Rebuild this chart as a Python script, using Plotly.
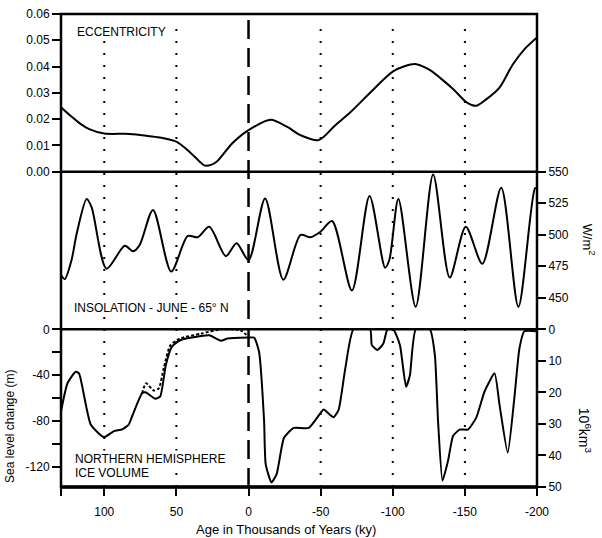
import plotly.graph_objects as go

# ---------------- data ----------------
ecc_age = [130, 123.7, 117, 110, 100, 85.8, 80, 68.6, 60.5, 50, 41, 34, 30.7, 26, 21.5, 11.2, 0,
           -15.4, -26.9, -36, -48.6, -60, -70.6, -85, -100.5, -115.5, -125, -132.8, -142,
           -151.2, -158, -165, -174, -183.2, -192, -200]
ecc_val = [0.0245, 0.0214, 0.0184, 0.0161, 0.0145, 0.0144, 0.0142, 0.0135, 0.0129, 0.0114, 0.0076,
           0.0039, 0.0024, 0.0026, 0.0041, 0.0108, 0.0158, 0.0198, 0.0170, 0.0139, 0.0120, 0.0176,
           0.0226, 0.0304, 0.0383, 0.0410, 0.0389, 0.0357, 0.0314, 0.0264, 0.0251, 0.0276, 0.0320,
           0.0408, 0.0470, 0.0511]

ins_age = [130, 127.4, 122.6, 119.1, 112.2, 108.8, 98.4, 85.8, 80, 75.4, 66.2, 53.6, 42.1, 35.2,
           27.2, 15.7, 8.3, 0, -11.5, -24.1, -36.1, -42.9, -49.9, -57.9, -71.7, -83.9, -94.7,
           -97.7, -103.9, -115.9, -128, -139.5, -150.6, -162.1, -175.2, -187.1, -198.6, -200]
ins_val = [468, 464.8, 480.4, 501, 528.3, 521.8, 473.1, 491.2, 486.9, 492, 519.7, 470.8, 499, 498,
           506.3, 483, 493.3, 479.9, 528.8, 464.4, 499.8, 498, 502.4, 510.9, 455.8, 530.8, 473.9,
           480.4, 528.3, 442.9, 547.7, 466.1, 506.3, 477, 537.3, 442.9, 536.8, 537]

ice_age = [130, 125.5, 119.8, 117.5, 109.4, 100.2, 93.3, 87.6, 83, 80.7, 73.8, 71.5, 64.6, 61.2,
           57.3, 53.2, 47.4, 32.9, 27.1, 19.1, 14.5, 0, -3.9, -7.3, -10.8, -11.9, -15.9, -19.5,
           -24.6, -31.4, -41.8, -49.9, -52.1, -59, -62.5, -67.1, -72.8, -84.3, -85.5, -89.4,
           -93.5, -96.3, -100.4, -105, -109.2, -111.9, -116, -125.7, -129.2, -131.4, -134.5,
           -138.3, -141.8, -146.4, -152.1, -157.9, -163.7, -170.6, -174, -179.7, -184.3, -187.8,
           -191.2, -200]
ice_val = [-71.5, -47, -37, -38.4, -83, -94, -88.8, -87.3, -83, -75.8, -55.7, -54.8, -60.5, -58.5,
           -31, -15.3, -9.5, -5.8, -5.2, -10, -8, -7.2, -7.2, -19.6, -80, -117.6, -133.5, -126.3,
           -94.6, -86, -86, -73, -70, -76.7, -70, -34, 0, 0, -13.8, -18, -12.4, 0, 0, -13.8, -50,
           -40, 0, 0, -22.5, -80, -132, -114.8, -93, -87.4, -87.4, -77, -54, -38.4, -65.7, -107.6,
           -60, -16.8, -1.7, -1.7]

alt_age = [73.8, 71, 65.7, 62.2, 58.8, 54.1, 47.4, 32.9, 19.1, 5.3, 0]
alt_val = [-55.7, -47, -53.4, -51.4, -34, -13.8, -8, -3.8, 0, -1, -6.6]

x_ticks = [130, 100, 50, 0, -50, -100, -150, -200]
x_ticktext = ["", "100", "50", "0", "-50", "-100", "-150", "-200"]
ecc_ticks = [0, 0.01, 0.02, 0.03, 0.04, 0.05, 0.06]
ins_ticks = [450, 475, 500, 525, 550]
sea_ticks = [-120, -100, -80, -60, -40, -20, 0]
sea_ticktext = ["-120", "", "-80", "", "-40", "", "0"]
vol_ticks = [0, 10, 20, 30, 40, 50]
dotted_ages = [100, 50, -50, -100, -150]

# ---------------- figure ----------------
FONT = "Liberation Sans, Arial, sans-serif"
fig = go.Figure()
lw = 2
fig.add_trace(go.Scatter(x=ecc_age, y=ecc_val, mode="lines", xaxis="x", yaxis="y",
                         line=dict(color="black", width=lw, shape="spline", smoothing=0.8)))
fig.add_trace(go.Scatter(x=ins_age, y=ins_val, mode="lines", xaxis="x", yaxis="y2",
                         line=dict(color="black", width=lw, shape="spline", smoothing=0.8)))
fig.add_trace(go.Scatter(x=alt_age, y=alt_val, mode="lines", xaxis="x", yaxis="y3",
                         line=dict(color="black", width=lw, dash="3px,2px", shape="spline", smoothing=0.6)))
fig.add_trace(go.Scatter(x=ice_age, y=ice_val, mode="lines", xaxis="x", yaxis="y3",
                         line=dict(color="black", width=lw, shape="spline", smoothing=0.5)))
# invisible carrier so the right-hand ice-volume axis is drawn
fig.add_trace(go.Scatter(x=[x_ticks[0], x_ticks[-1]], y=[vol_ticks[0], vol_ticks[-1]],
                         mode="lines", xaxis="x", yaxis="y4", hoverinfo="skip",
                         line=dict(color="rgba(0,0,0,0)", width=0)))

tick_common = dict(ticks="outside", ticklen=8, tickwidth=2, tickcolor="black",
                   showgrid=False, zeroline=False, showline=False,
                   tickfont=dict(family=FONT, size=12, color="black"))

fig.update_layout(
    width=602, height=538, autosize=False,
    margin=dict(l=61, r=65, t=7, b=51),
    paper_bgcolor="white", plot_bgcolor="white",
    showlegend=False,
    font=dict(family=FONT, size=12, color="black"),
    xaxis=dict(domain=[0, 1], range=[130, -200], anchor="y3",
               tickvals=x_ticks, ticktext=x_ticktext, ticklabelstandoff=6, **tick_common),
    yaxis=dict(domain=[2 / 3, 1], range=[0, 0.06], anchor="x", side="left",
               tickvals=ecc_ticks, tickformat=".2f", **tick_common),
    yaxis2=dict(domain=[1 / 3, 2 / 3], range=[425, 550], anchor="x", side="right",
                tickvals=ins_ticks, **tick_common),
    yaxis3=dict(domain=[0, 1 / 3], range=[-137.5, 0], anchor="x", side="left",
                tickvals=sea_ticks, ticktext=sea_ticktext, **tick_common),
    yaxis4=dict(overlaying="y3", range=[50, 0], anchor="x", side="right",
                tickvals=vol_ticks, **tick_common),
)

shapes = []
for xv in dotted_ages:
    shapes.append(dict(type="line", xref="x", yref="paper", x0=xv, x1=xv, y0=0, y1=0.985,
                       line=dict(color="black", width=2, dash="2px,10px"), layer="below"))
shapes.append(dict(type="line", xref="x", yref="paper", x0=0, x1=0, y0=0, y1=1,
                   line=dict(color="black", width=2.5, dash="19px,9px"), layer="below"))
# frame
shapes.append(dict(type="rect", xref="paper", yref="paper", x0=0, x1=1, y0=0, y1=1,
                   line=dict(color="black", width=2.5), layer="above"))
for yv in [1 / 3, 2 / 3]:
    shapes.append(dict(type="line", xref="paper", yref="paper", x0=0, x1=1, y0=yv, y1=yv,
                       line=dict(color="black", width=2.5), layer="above"))
shapes.append(dict(type="line", xref="paper", yref="paper", x0=0, x1=1, y0=0, y1=0,
                   line=dict(color="black", width=3.5), layer="above"))
fig.update_layout(shapes=shapes)

def lab(text, x, y, size=12, **kw):
    d = dict(text=text, xref="paper", yref="paper", x=x, y=y, showarrow=False,
             font=dict(family=FONT, size=size, color="black"))
    d.update(kw)
    return d

ann = [
    lab("ECCENTRICITY", 0.03, 0.9625, xanchor="left", yanchor="middle", bgcolor="white", borderpad=1),
    lab("INSOLATION - JUNE - 65° N", 0.024, 0.3777, xanchor="left", yanchor="middle", bgcolor="white", borderpad=1),
    lab("NORTHERN HEMISPHERE", 0.026, 0.0598, xanchor="left", yanchor="middle", bgcolor="white", borderpad=1),
    lab("ICE VOLUME", 0.026, 0.0306, xanchor="left", yanchor="middle", bgcolor="white", borderpad=1),
    lab("Age in Thousands of Years (ky)", (286 - 61) / 476, 1 - (530 - 7) / 480, size=13,
        xanchor="center", yanchor="middle"),
    lab("Sea level change (m)", (10 - 61) / 476, 1 - (426 - 7) / 480, size=12,
        xanchor="center", yanchor="middle", textangle=-90),
    lab("W/m<sup>2</sup>", (589 - 61) / 476, 1 - (236 - 7) / 480, size=13,
        xanchor="center", yanchor="middle", textangle=90),
    lab("10<sup>6</sup>km<sup>3</sup>", (585 - 61) / 476, 1 - (430 - 7) / 480, size=14,
        xanchor="center", yanchor="middle", textangle=90),
]
fig.update_layout(annotations=ann)

fig.write_html("out.html", config={"displayModeBar": False},
               post_script="document.body.style.margin='0px';")
